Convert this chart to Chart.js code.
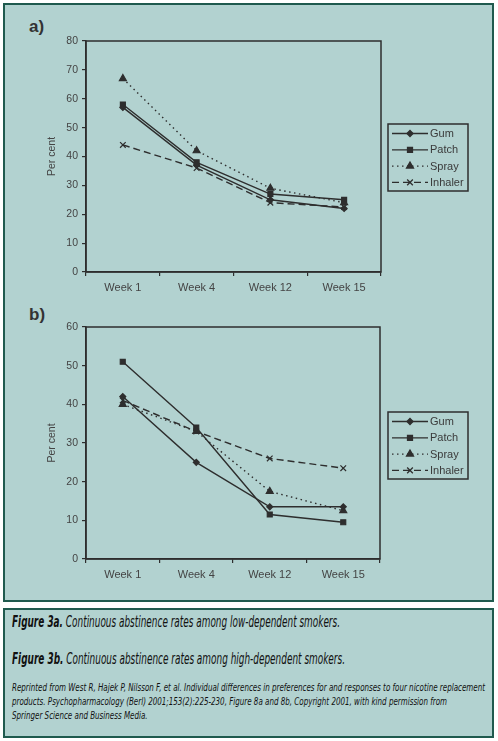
<!DOCTYPE html>
<html>
<head>
<meta charset="utf-8">
<script src="https://cdn.jsdelivr.net/npm/chart.js@4.4.0/dist/chart.umd.min.js"></script>
<style>
  body { margin: 0; background: #fff; }
  #page { position: relative; width: 498px; height: 741px; overflow: hidden; }
  .box { position: absolute; left: 3px; width: 487px; border: 2px solid #1f5a4e; background: #b2d2d0; }
  .tag { position: absolute; left: 29px; font: bold 17px "Liberation Sans", Arial, sans-serif; color: #333; }
  canvas { position: absolute; left: 0; }
  .cap { position: absolute; left: 12px; font-family: "DejaVu Sans Condensed", "Liberation Sans Narrow", sans-serif; font-style: italic; color: #111; white-space: nowrap; transform-origin: 0 0; }
  .cap b { font-weight: bold; }
</style>
</head>
<body>
<div id="page">
  <div class="box" style="top:3px;height:595px;"></div>
  <div class="box" style="top:608px;height:126px;"></div>
  <div class="tag" style="top:17px;">a)</div>
  <div class="tag" style="top:305px;">b)</div>
  <canvas id="chartA" width="498" height="300" style="top:0;"></canvas>
  <canvas id="chartB" width="498" height="300" style="top:300px;"></canvas>
  <div class="cap" data-w="328" style="top:613px;font-size:15px;"><b>Figure 3a.</b> Continuous abstinence rates among low-dependent smokers.</div>
  <div class="cap" data-w="333" style="top:650px;font-size:15px;"><b>Figure 3b.</b> Continuous abstinence rates among high-dependent smokers.</div>
  <div class="cap" data-w="473" style="top:681px;font-size:11px;line-height:14px;">Reprinted from West R, Hajek P, Nilsson F, et al. Individual differences in preferences for and responses to four nicotine replacement<br>products. Psychopharmacology (Berl) 2001;153(2):225-230, Figure 8a and 8b, Copyright 2001, with kind permission from<br>Springer Science and Business Media.</div>
</div>
<script>
// data
const weeks = ['Week 1', 'Week 4', 'Week 12', 'Week 15'];
const products = ['Gum', 'Patch', 'Spray', 'Inhaler'];

// a) low-dependent smokers
const lowGum = [57, 37, 25, 22];
const lowPatch = [58, 38, 27, 25];
const lowSpray = [67, 42, 29, 24];
const lowInhaler = [44, 36, 24, 22.5];
const lowMax = 80;

// b) high-dependent smokers
const highGum = [42, 25, 13.5, 13.5];
const highPatch = [51, 34, 11.5, 9.5];
const highSpray = [40, 33, 17.5, 12.5];
const highInhaler = [41, 33, 26, 23.5];
const highMax = 60;

const ink = '#2e2e2e';
const font = '"Liberation Sans", Arial, sans-serif';

const looks = [
  { pointStyle: 'rectRot', pointRadius: 3, borderDash: [] },
  { pointStyle: 'rect', pointRadius: 3.5, borderDash: [] },
  { pointStyle: 'triangle', pointRadius: 4, borderDash: [1.5, 3.5] },
  { pointStyle: 'crossRot', pointRadius: 4, borderDash: [7, 4] }
];

// squeeze the caption lines to the narrow width of the printed face
document.querySelectorAll('.cap').forEach(function (el) {
  const w = el.getBoundingClientRect().width;
  el.style.transform = 'scaleX(' + (Number(el.dataset.w) / w) + ')';
});

// box around the plot and the boxed legend on the right
const framePlugin = {
  id: 'frame',
  afterDraw(chart, args, opts) {
    const ctx = chart.ctx;
    const a = chart.chartArea;
    ctx.save();
    ctx.strokeStyle = ink;
    ctx.lineWidth = 1.5;
    ctx.strokeRect(a.left, a.top, a.right - a.left, a.bottom - a.top);

    const b = opts.box;
    ctx.lineWidth = 1.5;
    ctx.strokeRect(b.x, b.y, b.w, b.h);
    ctx.font = '11px ' + font;
    ctx.textBaseline = 'middle';
    chart.data.datasets.forEach(function (ds, i) {
      const y = b.y + 9.5 + i * 16.3;
      ctx.strokeStyle = ink;
      ctx.lineWidth = 1.3;
      ctx.setLineDash(ds.borderDash || []);
      ctx.beginPath();
      ctx.moveTo(b.x + 4, y);
      ctx.lineTo(b.x + 40, y);
      ctx.stroke();
      ctx.setLineDash([]);
      ctx.fillStyle = ink;
      Chart.helpers.drawPoint(ctx, {
        pointStyle: ds.pointStyle, radius: ds.pointRadius, rotation: 0, borderWidth: 1.2
      }, b.x + 22, y);
      ctx.fillStyle = '#3a3a3a';
      ctx.fillText(ds.label, b.x + 42, y + 0.5);
    });
    ctx.restore();
  }
};

function makeChart(id, series, yMax, pad, box) {
  return new Chart(id, {
    type: 'line',
    data: {
      labels: weeks,
      datasets: series.map(function (values, i) {
        return {
          label: products[i],
          data: values,
          borderColor: ink,
          backgroundColor: ink,
          borderWidth: 1.4,
          borderDash: looks[i].borderDash,
          pointStyle: looks[i].pointStyle,
          pointRadius: looks[i].pointRadius,
          pointBorderWidth: 1.2,
          tension: 0,
          fill: false
        };
      })
    },
    options: {
      responsive: false,
      animation: false,
      devicePixelRatio: 1,
      layout: { padding: pad },
      plugins: {
        legend: { display: false },
        tooltip: { enabled: false },
        frame: { box: box }
      },
      scales: {
        x: {
          offset: true,
          grid: { offset: true, drawOnChartArea: false, tickLength: 4, color: ink, lineWidth: 1.2 },
          border: { color: ink, width: 1.5 },
          ticks: { color: '#444', font: { family: font, size: 11 }, padding: 5 },
          afterFit(s) { s.height = 28; }
        },
        y: {
          min: 0,
          max: yMax,
          ticks: { stepSize: 10, color: '#444', font: { family: font, size: 10.5 }, padding: 4 },
          grid: { drawOnChartArea: false, tickLength: 4, color: ink, lineWidth: 1.2 },
          border: { color: ink, width: 1.5 },
          title: {
            display: true, text: 'Per cent', color: '#444',
            font: { family: font, size: 10.5 }, padding: { top: 46, bottom: 0 }
          },
          afterFit(s) { s.width = 86; }
        }
      }
    },
    plugins: [framePlugin]
  });
}

makeChart('chartA', [lowGum, lowPatch, lowSpray, lowInhaler], lowMax,
  { top: 41, right: 117, bottom: 0, left: 0 },
  { x: 388, y: 124, w: 80, h: 67 });

makeChart('chartB', [highGum, highPatch, highSpray, highInhaler], highMax,
  { top: 27, right: 118, bottom: 13, left: 0 },
  { x: 388, y: 112, w: 80, h: 67 });
</script>
</body>
</html>
